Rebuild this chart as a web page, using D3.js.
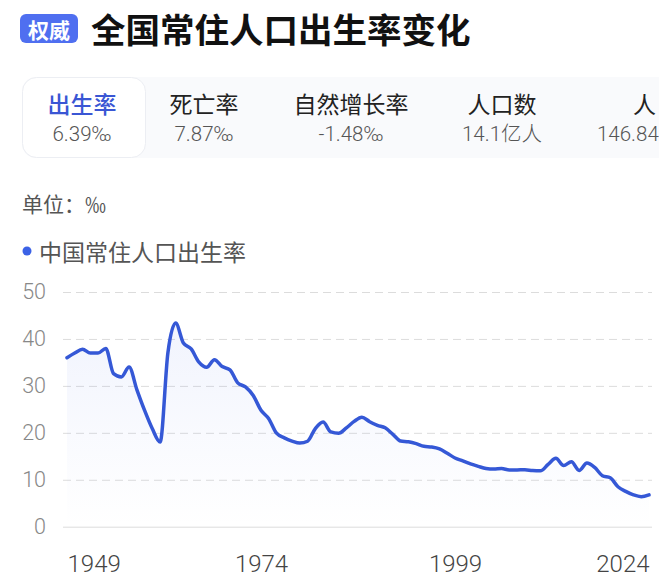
<!DOCTYPE html>
<html>
<head>
<meta charset="utf-8">
<script src="https://cdn.jsdelivr.net/npm/d3@7"></script>
<style>
  html, body { margin: 0; padding: 0; background: #fff; overflow: hidden; }
  #chart svg { display: block; }
  .cjk { font-family: "Noto Sans CJK SC", "Noto Sans", sans-serif; }
  .num { font-family: Roboto, "Noto Sans CJK SC", sans-serif; font-weight: 300; }
</style>
</head>
<body>
<div id="chart"></div>
<script>
// Data
const years = [1949, 1950, 1951, 1952, 1953, 1954, 1955, 1956, 1957, 1958, 1959,
  1960, 1961, 1962, 1963, 1964, 1965, 1966, 1967, 1968, 1969,
  1970, 1971, 1972, 1973, 1974, 1975, 1976, 1977, 1978, 1979,
  1980, 1981, 1982, 1983, 1984, 1985, 1986, 1987, 1988, 1989,
  1990, 1991, 1992, 1993, 1994, 1995, 1996, 1997, 1998, 1999,
  2000, 2001, 2002, 2003, 2004, 2005, 2006, 2007, 2008, 2009,
  2010, 2011, 2012, 2013, 2014, 2015, 2016, 2017, 2018, 2019,
  2020, 2021, 2022, 2023, 2024];
const birthRate = [36.00, 37.00, 37.80, 37.00, 37.00, 37.97, 32.60, 31.90, 34.03, 29.22, 24.78,
  20.86, 18.02, 37.01, 43.37, 39.14, 37.88, 35.05, 33.96, 35.59, 34.11,
  33.43, 30.65, 29.77, 27.93, 24.82, 23.01, 19.91, 18.93, 18.25, 17.82,
  18.21, 20.91, 22.28, 20.19, 19.90, 21.04, 22.43, 23.33, 22.37, 21.58,
  21.06, 19.68, 18.24, 18.09, 17.70, 17.12, 16.98, 16.57, 15.64, 14.64,
  14.03, 13.38, 12.86, 12.41, 12.29, 12.40, 12.09, 12.10, 12.14, 11.95,
  11.90, 13.27, 14.57, 13.03, 13.83, 11.99, 13.57, 12.64, 10.86, 10.41,
  8.52, 7.52, 6.77, 6.39, 6.77];
const yTicks = [0, 10, 20, 30, 40, 50];
const xTicks = [1949, 1974, 1999, 2024];
const tabLabels = ["出生率", "死亡率", "自然增长率", "人口数", "人"];
const tabValues = ["6.39‰", "7.87‰", "-1.48‰", "14.1亿人", "146.84"];

// Dimensions
const W = 659, H = 588;
const blue = "#3558d6";

const svg = d3.select("#chart")
  .append("svg")
  .attr("width", W)
  .attr("height", H);

// Header
svg.append("rect")
  .attr("x", 20).attr("y", 14)
  .attr("width", 58).attr("height", 29)
  .attr("rx", 6)
  .attr("fill", "#4f6ff0");
svg.append("text")
  .attr("class", "cjk")
  .attr("x", 49).attr("y", 29)
  .attr("text-anchor", "middle")
  .attr("dominant-baseline", "central")
  .attr("fill", "#fff")
  .attr("font-size", 21)
  .attr("font-weight", 700)
  .text("权威");
svg.append("text")
  .attr("class", "cjk")
  .attr("x", 91).attr("y", 28)
  .attr("dominant-baseline", "central")
  .attr("fill", "#111")
  .attr("font-size", 34.5)
  .attr("font-weight", 700)
  .text("全国常住人口出生率变化");

// Tabs
svg.append("rect")
  .attr("x", 22).attr("y", 77)
  .attr("width", 720).attr("height", 81)
  .attr("rx", 14)
  .attr("fill", "#f9fafc");
svg.append("rect")
  .attr("x", 22.5).attr("y", 77.5)
  .attr("width", 123).attr("height", 80)
  .attr("rx", 14)
  .attr("fill", "#fff")
  .attr("stroke", "#eceef3");

// last tab is cut by the window edge, so it is placed by its left side
const tabX = [82, 204, 351, 502, 633];
const tabValX = [82, 204, 351, 502, 597];
svg.selectAll(".tab-label")
  .data(tabLabels)
  .enter()
  .append("text")
  .attr("class", "tab-label cjk")
  .attr("x", (d, i) => tabX[i])
  .attr("y", 103)
  .attr("text-anchor", (d, i) => i === tabLabels.length - 1 ? "start" : "middle")
  .attr("dominant-baseline", "central")
  .attr("font-size", 23)
  .attr("font-weight", (d, i) => i === 0 ? 500 : 400)
  .attr("fill", (d, i) => i === 0 ? "#3a56d4" : "#222")
  .text(d => d);
svg.selectAll(".tab-value")
  .data(tabValues)
  .enter()
  .append("text")
  .attr("class", "tab-value num")
  .attr("x", (d, i) => tabValX[i])
  .attr("y", 134)
  .attr("text-anchor", (d, i) => i === tabValues.length - 1 ? "start" : "middle")
  .attr("dominant-baseline", "central")
  .attr("font-size", 20.5)
  .attr("fill", "#555")
  .text(d => d);

// Unit and legend
svg.append("text")
  .attr("class", "cjk")
  .attr("x", 22).attr("y", 203)
  .attr("dominant-baseline", "central")
  .attr("font-size", 21)
  .attr("fill", "#555")
  .text("单位：‰");
svg.append("circle")
  .attr("cx", 27).attr("cy", 251).attr("r", 4.5)
  .attr("fill", "#3b62e6");
svg.append("text")
  .attr("class", "cjk")
  .attr("x", 39).attr("y", 251)
  .attr("dominant-baseline", "central")
  .attr("font-size", 23)
  .attr("fill", "#555")
  .text("中国常住人口出生率");

// Scales
const xScale = d3.scaleLinear()
  .domain([1949, 2024])
  .range([67, 649]);
const yScale = d3.scaleLinear()
  .domain([0, 50])
  .range([526.7, 292]);

// Y grid + labels
const yAxis = svg.append("g")
  .attr("transform", "translate(63,0)")
  .call(d3.axisLeft(yScale).tickValues(yTicks).tickSize(-589).tickPadding(17));
yAxis.select(".domain").remove();
yAxis.selectAll(".tick line")
  .attr("stroke", "#dcdcdc")
  .attr("stroke-dasharray", d => d === 0 ? null : "8,5");
yAxis.selectAll(".tick text")
  .attr("class", "num")
  .attr("font-size", 21.5)
  .attr("fill", "#888");

// X labels
const xAxis = svg.append("g")
  .attr("transform", "translate(0,526.7)")
  .call(d3.axisBottom(xScale).tickValues(xTicks).tickFormat(d3.format("d")).tickSize(0).tickPadding(28));
xAxis.select(".domain").remove();
xAxis.selectAll(".tick text")
  .attr("class", "num")
  .attr("font-size", 24)
  .attr("fill", "#444")
  .attr("text-anchor", (d, i) => i === 0 ? "start" : (i === xTicks.length - 1 ? "end" : "middle"));

// Area gradient
const defs = svg.append("defs");
const grad = defs.append("linearGradient")
  .attr("id", "areaGrad")
  .attr("x1", 0).attr("y1", 0).attr("x2", 0).attr("y2", 1);
grad.append("stop").attr("offset", "0%").attr("stop-color", "#3b62e6").attr("stop-opacity", 0.07);
grad.append("stop").attr("offset", "100%").attr("stop-color", "#3b62e6").attr("stop-opacity", 0);

const series = years.map((y, i) => ({ year: y, value: birthRate[i] }));

const area = d3.area()
  .x(d => xScale(d.year))
  .y0(yScale(0))
  .y1(d => yScale(d.value))
  .curve(d3.curveMonotoneX);

svg.append("path")
  .datum(series)
  .attr("d", area)
  .attr("fill", "url(#areaGrad)");

const line = d3.line()
  .x(d => xScale(d.year))
  .y(d => yScale(d.value))
  .curve(d3.curveMonotoneX);

svg.append("path")
  .datum(series)
  .attr("d", line)
  .attr("fill", "none")
  .attr("stroke", blue)
  .attr("stroke-width", 3.5)
  .attr("stroke-linejoin", "round")
  .attr("stroke-linecap", "round");
</script>
</body>
</html>
